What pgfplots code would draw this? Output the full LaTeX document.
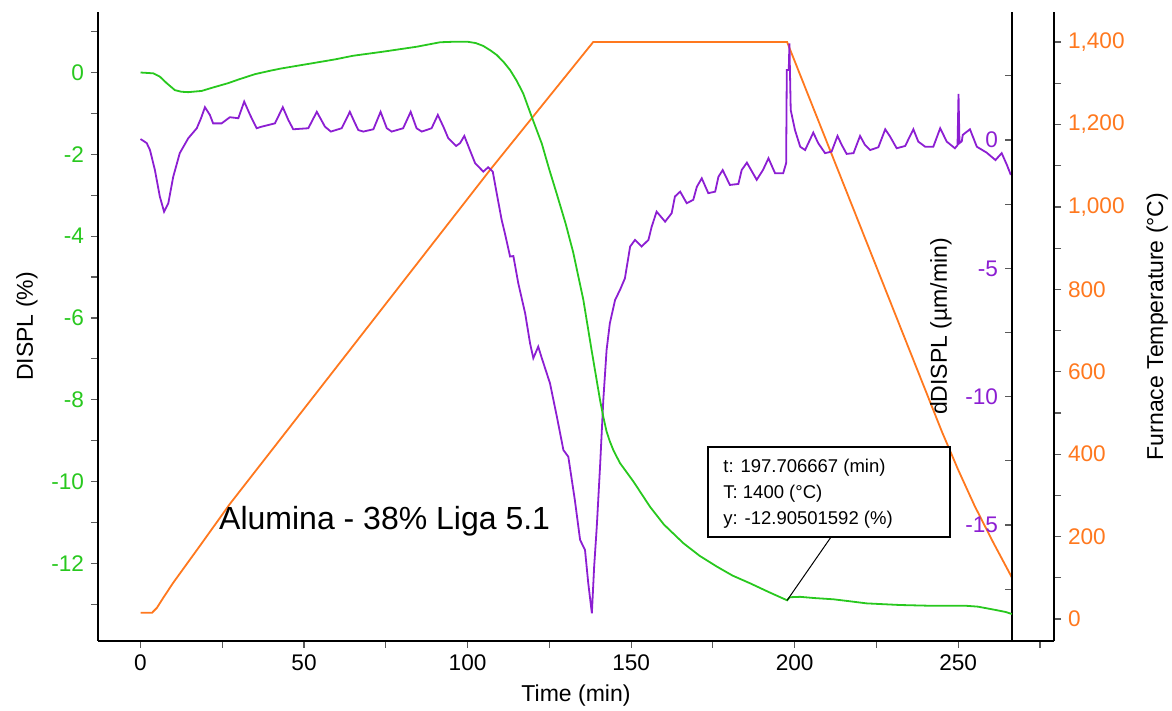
\documentclass[border=0pt]{standalone}
\usepackage{fontspec}
\setmainfont{Liberation Sans}
\usepackage{pgfplots}
\usepackage{pgfplotstable}
\pgfplotsset{compat=1.18}

\definecolor{dgreen}{RGB}{40,200,30}
\definecolor{dpurple}{RGB}{140,30,210}
\definecolor{dorange}{RGB}{255,120,30}
\definecolor{tickgray}{RGB}{90,90,90}

% DISPL (%) vs time (min)
\pgfplotstableread{
t D
0 0
2 -0.01
3.9 -0.02
5.9 -0.1
8 -0.26
10.5 -0.43
12.5 -0.47
14.6 -0.48
18.7 -0.45
22 -0.37
26.8 -0.26
30 -0.17
35 -0.04
40 0.05
43.1 0.10
51.3 0.21
59.4 0.32
65 0.41
74.2 0.51
84.4 0.63
91.6 0.74
95 0.75
100.2 0.75
102.5 0.72
104.8 0.65
107 0.54
108.9 0.43
111 0.26
113 0.06
115 -0.2
117 -0.51
119.6 -1.08
122.7 -1.74
124.9 -2.35
127.2 -2.95
130 -3.7
132.3 -4.4
135.4 -5.56
137.9 -6.78
140.5 -8.01
141.5 -8.42
142.5 -8.78
143.5 -9.02
144.6 -9.24
146.6 -9.55
150.7 -10.0
155.8 -10.62
160 -11.05
166 -11.51
171 -11.82
176.2 -12.08
181 -12.3
186.4 -12.49
192 -12.7
197.7 -12.905
198.5 -12.83
201.7 -12.82
206 -12.85
211.8 -12.88
217 -12.93
222 -12.98
232.2 -13.02
242.4 -13.04
252.6 -13.04
256 -13.06
258.7 -13.1
262 -13.15
264.5 -13.19
266.4 -13.24
}\displ

% dDISPL (um/min) vs time (min)
\pgfplotstableread{
t d
0 0.04
1.9 -0.12
2.9 -0.39
4.4 -1.17
5.9 -2.2
7.2 -2.79
8.5 -2.46
10 -1.43
12 -0.51
14.6 0.07
17.2 0.46
18.5 0.85
19.7 1.28
21.2 0.98
22.2 0.65
24.8 0.65
27.3 0.89
29.9 0.85
31.7 1.5
33.5 0.98
35.5 0.46
37 0.52
41.1 0.65
43.5 1.28
45.2 0.78
46.7 0.42
51.3 0.46
53.9 1.1
56.4 0.52
58.2 0.33
61.5 0.46
64 1.1
65.6 0.65
66.6 0.39
68.1 0.33
71.2 0.42
73.4 1.1
75.3 0.46
76.8 0.33
80.3 0.46
82.6 1.1
84.4 0.46
86 0.33
89 0.46
90.9 0.98
92.6 0.52
94.1 0.07
96.5 -0.23
97.7 -0.12
99 0.16
100.7 -0.39
102.3 -0.9
104.8 -1.23
106.3 -1.06
107.7 -1.23
108.9 -2.07
110.4 -3.1
111.4 -3.63
113 -4.54
114 -4.52
115.5 -5.58
117.6 -6.75
119.1 -7.92
120.1 -8.5
121.6 -8.05
122.7 -8.5
125.2 -9.48
127.3 -10.78
129.3 -12.08
130.8 -12.34
132.8 -14.03
134.4 -15.58
135.9 -15.97
136.9 -17.27
138 -18.44
138.7 -16.62
139.5 -15.07
140.5 -12.73
141.5 -10.13
142.5 -8.18
143.5 -7.14
145.1 -6.23
146.6 -5.84
148.1 -5.39
149.7 -4.15
151.2 -3.89
153.2 -4.15
155.3 -3.89
156.3 -3.37
157.8 -2.79
160.4 -3.18
162.4 -2.85
163.4 -2.2
165 -2.01
167 -2.46
169 -2.33
170.1 -1.82
171.6 -1.49
173.6 -2.07
175.7 -2.01
176.7 -1.43
178 -1.17
180.2 -1.75
182.8 -1.71
183.8 -1.17
185.4 -0.88
188.4 -1.55
190.3 -1.17
192 -0.71
194 -1.29
196.5 -1.29
197.4 -0.9
197.6 2.73
198.2 2.73
198.4 3.77
198.8 1.17
200.1 0.39
201.7 -0.26
203.2 -0.39
205.7 0.29
207.2 -0.12
209.3 -0.51
211.3 -0.45
213.1 0.16
214.4 -0.19
215.9 -0.54
218 -0.51
220 0.16
221.5 -0.19
223.1 -0.39
225.6 -0.28
227.7 0.42
229.2 0.13
231.2 -0.32
233.8 -0.23
236.3 0.42
237.8 -0.06
239.9 -0.26
242.4 -0.26
244.5 0.46
246.5 -0.06
249 -0.32
249.8 -0.2
250.1 1.8
250.4 -0.12
251.1 -0.05
251.4 0.2
253.6 0.42
255.7 -0.26
258.7 -0.49
261.4 -0.78
263.3 -0.51
264.9 -0.97
266.1 -1.36
}\ddispl

% furnace temperature (C) vs time (min)
\pgfplotstableread{
t T
0 15
3.5 15
5 27
7 52
10 88
18.2 178
27.4 280
60 612
106.9 1090
119.6 1215
138.4 1400
197.7 1400
245 455
250 362
255 275
260.7 186
266.4 101
}\temp

\pgfplotsset{
  base/.style={
    scale only axis, width=478pt, height=314.5pt,
    at={(49pt,35pt)}, anchor=south west,
    xmin=-13, xmax=279.3,
    tick align=outside,
    major tick length=3.5pt, minor tick length=3.5pt,
    tick style={tickgray, line width=0.6pt},
    axis line style={black, line width=0.9pt},
    tick label style={font=\fontsize{11.3}{13}\selectfont},
    label style={font=\fontsize{11.5}{13}\selectfont},
    /pgf/number format/assume math mode=true,
  },
}

\begin{document}
\begin{tikzpicture}
\useasboundingbox (0,0) rectangle (586pt,355.5pt);

% furnace temperature, right axis
\begin{axis}[base,
    hide x axis,
    axis y line*=right,
    ymin=-53.4, ymax=1473,
    ytick={0,200,...,1400},
    minor ytick={100,300,...,1300},
    yticklabel style={dorange, /pgf/number format/1000 sep={,}},
    ylabel={Furnace Temperature (°C)},
    ylabel shift=4pt,
]
\addplot[dorange, line width=0.9pt] table[x=t, y=T] {\temp};
\end{axis}

% dDISPL data
\begin{axis}[base,
    hide axis,
    ymin=-19.52, ymax=4.99,
]
\addplot[dpurple, line width=0.9pt] table[x=t, y=d] {\ddispl};
\end{axis}

% dDISPL axis line inside the frame
\begin{axis}[base,
    at={(506pt,35pt)}, width=21pt,
    xmin=0, xmax=1,
    hide x axis,
    axis y line*=left,
    ymin=-19.52, ymax=4.99,
    ytick={-15,-10,-5,0},
    minor ytick={-17.5,-12.5,-7.5,-2.5,2.5},
    yticklabel style={dpurple},
    ylabel={dDISPL (µm/min)},
]
\addplot[draw=none] coordinates {(0,0)};
\end{axis}

% DISPL, left axis and time axis
\begin{axis}[base,
    axis x line*=bottom,
    axis y line*=left,
    ymin=-13.9, ymax=1.48,
    xtick={0,50,...,250},
    minor xtick={25,75,...,275},
    ytick={-12,-10,...,0},
    minor ytick={-13,-11,...,1},
    yticklabel style={dgreen},
    xlabel={Time (min)},
    ylabel={DISPL (\%)},
]
\addplot[dgreen, line width=0.9pt] table[x=t, y=D] {\displ};
\node[anchor=west, font=\fontsize{16}{18}\selectfont] at (axis cs:21.9,-10.97) {Alumina - 38\% Liga 5.1};
\draw[black, line width=0.5pt] (axis cs:211.13,-11.357) -- (axis cs:197.706667,-12.90501592);
\draw[black, line width=0.6pt, fill=white] (axis cs:173.52,-9.156) rectangle (axis cs:247.52,-11.357);
\begin{scope}[every node/.style={anchor=west, font=\fontsize{9.25}{11}\selectfont, inner sep=0pt}]
\node at (axis cs:178.1,-9.67) {t: 197.706667 (min)};
\node at (axis cs:178.1,-10.31) {T: 1400 (°C)};
\node at (axis cs:178.1,-10.94) {y: -12.90501592 (\%)};
\end{scope}
\end{axis}
\end{tikzpicture}
\end{document}
